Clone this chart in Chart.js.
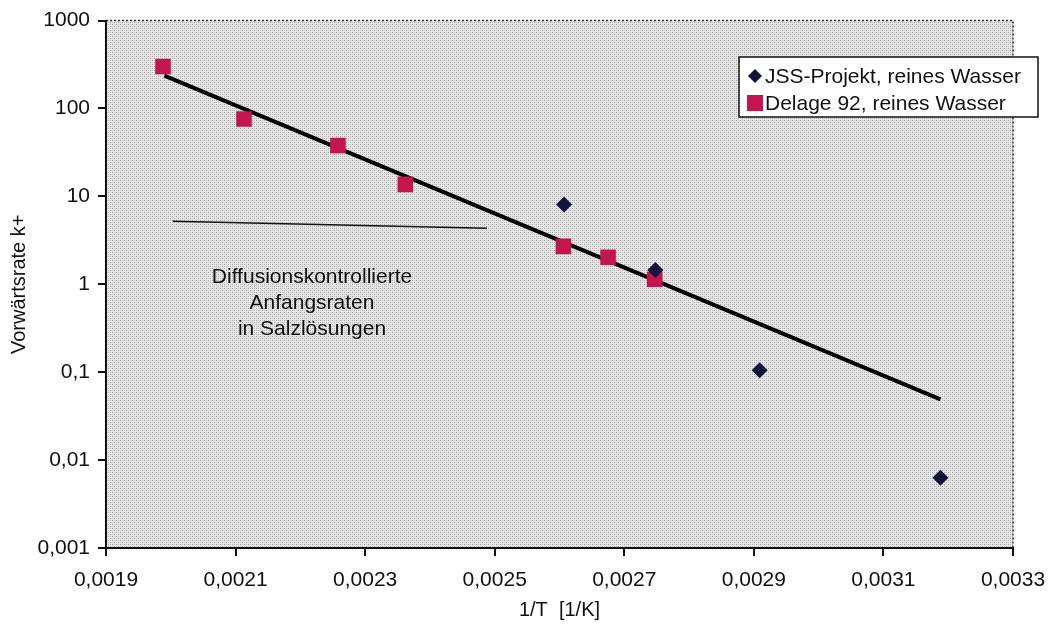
<!DOCTYPE html>
<html>
<head>
<meta charset="utf-8">
<script src="https://cdn.jsdelivr.net/npm/chart.js@4.4.0/dist/chart.umd.min.js"></script>
<style>
  html, body { margin: 0; padding: 0; background: #ffffff; }
  #wrap { width: 1053px; height: 628px; position: relative; }
</style>
</head>
<body>
<div id="wrap"><canvas id="rateChart"></canvas></div>
<script>
// Data (x = 1/T in 1/K, y = forward rate k+)
const jssX = [0.002607, 0.002748, 0.002909, 0.003188];
const jssY = [8.1, 1.45, 0.105, 0.0063];

const delageX = [0.001988, 0.002113, 0.002258, 0.002362, 0.002606, 0.002675, 0.002747];
const delageY = [300, 76, 38, 13.7, 2.7, 2.03, 1.14];

// fitted trend line (end points)
const trendX = [0.00199, 0.003188];
const trendY = [237, 0.049];

// diffusion controlled initial rates in salt solutions
const diffX = [0.002003, 0.002488];
const diffY = [5.2, 4.35];

const yTicks = [0.001, 0.01, 0.1, 1, 10, 100, 1000];
const xTickStep = 0.0002;

const noteLines = ['Diffusionskontrollierte', 'Anfangsraten', 'in Salzlösungen'];
const legendLabels = ['JSS-Projekt, reines Wasser', 'Delage 92, reines Wasser'];

const FONT = "'Liberation Sans', Arial, Helvetica, sans-serif";
const jssColor = '#14143a';
const delageColor = '#c4154e';

function toPoints(xs, ys) {
    return xs.map((x, i) => ({ x: x, y: ys[i] }));
}

function germanNum(v) {
    return String(v).replace('.', ',');
}

// stippled background like the old print
function makeStipple(ctx) {
    const c = document.createElement('canvas');
    c.width = 4; c.height = 4;
    const p = c.getContext('2d');
    p.fillStyle = '#e6e6e6';
    p.fillRect(0, 0, 4, 4);
    p.fillStyle = '#a8a8a8';
    p.fillRect(0, 0, 1, 1);
    p.fillRect(2, 2, 1, 1);
    p.fillStyle = '#c4c4c4';
    p.fillRect(2, 0, 1, 1);
    p.fillRect(0, 2, 1, 1);
    return ctx.createPattern(c, 'repeat');
}

const backgroundPlugin = {
    id: 'stippleBg',
    beforeDraw(chart) {
        const { ctx, chartArea: a } = chart;
        ctx.save();
        ctx.fillStyle = makeStipple(ctx);
        ctx.fillRect(a.left, a.top, a.right - a.left, a.bottom - a.top);
        // dotted top and right frame
        ctx.strokeStyle = '#333333';
        ctx.lineWidth = 1.5;
        ctx.setLineDash([2, 2]);
        ctx.beginPath();
        ctx.moveTo(a.left, a.top);
        ctx.lineTo(a.right, a.top);
        ctx.lineTo(a.right, a.bottom);
        ctx.stroke();
        ctx.restore();
    }
};

const notePlugin = {
    id: 'noteAndLegend',
    afterDraw(chart) {
        const { ctx } = chart;
        const xs = chart.scales.x;
        ctx.save();
        // annotation text
        ctx.font = '21px ' + FONT;
        ctx.fillStyle = '#111111';
        ctx.textAlign = 'center';
        ctx.textBaseline = 'middle';
        const cx = xs.getPixelForValue(0.002218);
        noteLines.forEach((line, i) => {
            ctx.fillText(line, cx, 277 + i * 26);
        });

        // legend box
        const bx = 739, by = 57, bw = 299, bh = 60;
        ctx.fillStyle = '#ffffff';
        ctx.fillRect(bx, by, bw, bh);
        ctx.strokeStyle = '#111111';
        ctx.lineWidth = 1.5;
        ctx.strokeRect(bx, by, bw, bh);

        // diamond marker
        ctx.fillStyle = jssColor;
        ctx.beginPath();
        ctx.moveTo(755, 69); ctx.lineTo(762, 76); ctx.lineTo(755, 83); ctx.lineTo(748, 76);
        ctx.closePath();
        ctx.fill();
        // square marker
        ctx.fillStyle = delageColor;
        ctx.fillRect(747, 95, 16, 16);

        ctx.fillStyle = '#111111';
        ctx.textAlign = 'left';
        ctx.font = '21px ' + FONT;
        ctx.fillText(legendLabels[0], 765, 77);
        ctx.fillText(legendLabels[1], 765, 104);
        ctx.restore();
    }
};

const ctx = document.getElementById('rateChart').getContext('2d');
new Chart(ctx, {
    type: 'scatter',
    data: {
        datasets: [{
            label: 'Trend',
            data: toPoints(trendX, trendY),
            showLine: true,
            borderColor: '#000000',
            borderWidth: 4,
            pointRadius: 0,
            order: 3
        }, {
            label: 'Diffusion',
            data: toPoints(diffX, diffY),
            showLine: true,
            borderColor: '#111111',
            borderWidth: 1.5,
            pointRadius: 0,
            order: 4
        }, {
            label: legendLabels[1],
            data: toPoints(delageX, delageY),
            pointStyle: 'rect',
            pointRadius: 11,
            backgroundColor: delageColor,
            borderColor: delageColor,
            borderWidth: 0,
            order: 2
        }, {
            label: legendLabels[0],
            data: toPoints(jssX, jssY),
            pointStyle: 'rectRot',
            pointRadius: 8,
            backgroundColor: jssColor,
            borderColor: jssColor,
            borderWidth: 0,
            order: 1
        }]
    },
    options: {
        responsive: true,
        maintainAspectRatio: false,
        animation: false,
        layout: { padding: { left: 0, right: 40, top: 20, bottom: 0 } },
        plugins: {
            legend: { display: false },
            tooltip: { enabled: false }
        },
        scales: {
            x: {
                type: 'linear',
                min: 0.0019,
                max: 0.0033,
                afterFit: s => { s.height = 80; s.paddingRight = 0; s.paddingLeft = 0; },
                ticks: {
                    stepSize: xTickStep,
                    padding: 12,
                    color: '#111111',
                    font: { family: FONT, size: 21 },
                    maxRotation: 0,
                    callback: v => germanNum(v.toFixed(4))
                },
                grid: { drawOnChartArea: false, drawTicks: true, tickLength: 8, color: '#111111', lineWidth: 2 },
                border: { display: true, color: '#111111', width: 2 },
                title: {
                    display: true,
                    text: '1/T  [1/K]',
                    color: '#111111',
                    font: { family: FONT, size: 20 },
                    padding: { top: 0, bottom: 6 }
                }
            },
            y: {
                type: 'logarithmic',
                min: 0.001,
                max: 1000,
                afterFit: s => { s.width = 106; },
                afterBuildTicks: s => { s.ticks = yTicks.map(v => ({ value: v })); },
                ticks: {
                    padding: 8,
                    color: '#111111',
                    font: { family: FONT, size: 21 },
                    callback: v => germanNum(v)
                },
                grid: { drawOnChartArea: false, drawTicks: true, tickLength: 8, color: '#111111', lineWidth: 2 },
                border: { display: true, color: '#111111', width: 2 },
                title: {
                    display: true,
                    text: 'Vorwärtsrate k+',
                    color: '#111111',
                    font: { family: FONT, size: 20 },
                    padding: { top: 7, bottom: 0 }
                }
            }
        }
    },
    plugins: [backgroundPlugin, notePlugin]
});
</script>
</body>
</html>
